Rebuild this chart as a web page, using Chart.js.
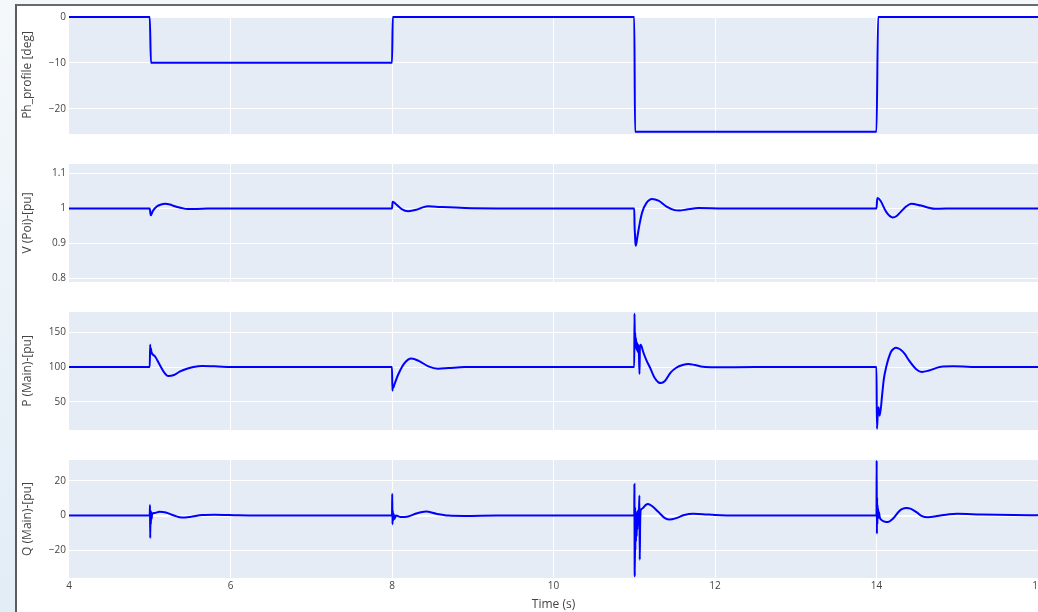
<!DOCTYPE html>
<html>
<head>
<meta charset="utf-8">
<script src="https://cdn.jsdelivr.net/npm/chart.js@4.4.0/dist/chart.umd.min.js"></script>
<style>
  body {
    margin: 0;
    width: 1038px;
    height: 612px;
    overflow: hidden;
    position: relative;
    background: linear-gradient(#f4f8fb, #e2edf6);
  }
  #panel {
    position: absolute;
    left: 15px;
    top: 4px;
    width: 1100px;
    height: 700px;
    background: #fff;
    border-left: 2px solid #5c5c5c;
    border-top: 2px solid #6a6a6a;
  }
  canvas {
    position: absolute;
    left: 17px;
  }
</style>
</head>
<body>
<div id="panel"></div>
<canvas id="phChart" width="1051" height="136" style="top:7px;width:1051px;height:136px"></canvas>
<canvas id="vChart" width="1051" height="136" style="top:155px;width:1051px;height:136px"></canvas>
<canvas id="pChart" width="1051" height="136" style="top:303px;width:1051px;height:136px"></canvas>
<canvas id="qChart" width="1051" height="161" style="top:451px;width:1051px;height:161px"></canvas>
<script>
const xTicks = [4, 6, 8, 10, 12, 14, 16];

// phase step profile
const phTime = [4, 5, 5.015, 8, 8.01, 11, 11.01, 14, 14.02, 16];
const phValues = [0, 0, -10, -10, 0, 0, -25, -25, 0, 0];
const phTicks = [-20, -10, 0];

// voltage at the point of interconnection
const vTime = [4, 5, 5.012, 5.04, 5.09, 5.14, 5.19, 5.25, 5.3, 5.38, 5.47, 5.65, 5.9,
  8, 8.008, 8.05, 8.12, 8.2, 8.3, 8.38, 8.45, 8.6, 8.9, 9.3,
  11, 11.004, 11.008, 11.015, 11.02, 11.04, 11.07, 11.1, 11.15, 11.22, 11.3, 11.4, 11.5, 11.56, 11.65, 11.8, 12.1,
  14, 14.01, 14.05, 14.12, 14.2, 14.25, 14.3, 14.37, 14.43, 14.55, 14.72, 15, 16];
const vValues = [1, 1, 0.98, 0.993, 1.006, 1.011, 1.013, 1.011, 1.007, 1.002, 0.998, 0.999, 1,
  1, 1.019, 1.012, 0.998, 0.992, 0.996, 1.003, 1.006, 1.004, 1.001, 1,
  1, 0.95, 0.93, 0.9, 0.893, 0.92, 0.96, 0.99, 1.015, 1.027, 1.022, 1.005, 0.995, 0.994, 0.997, 1.001, 1,
  1, 1.03, 1.022, 0.99, 0.974, 0.978, 0.99, 1.006, 1.013, 1.008, 0.999, 1, 1];
const vTicks = [0.8, 0.9, 1, 1.1];

// active power, main
const pTime = [4, 5, 5.005, 5.01, 5.015, 5.02, 5.06, 5.12, 5.18, 5.23, 5.3, 5.37, 5.46, 5.54, 5.65, 5.8, 6.1, 6.5,
  8, 8.005, 8.01, 8.015, 8.03, 8.08, 8.15, 8.24, 8.33, 8.45, 8.57, 8.7, 8.9, 9.3,
  11, 11.003, 11.008, 11.012, 11.016, 11.022, 11.028, 11.035, 11.042, 11.05, 11.058, 11.065, 11.07, 11.078, 11.09,
  11.11, 11.15, 11.2, 11.25, 11.3, 11.33, 11.38, 11.45, 11.52, 11.6, 11.67, 11.75, 11.85, 12, 12.5,
  14, 14.005, 14.015, 14.025, 14.04, 14.07, 14.09, 14.12, 14.18, 14.21, 14.24, 14.27, 14.3, 14.35, 14.4, 14.5,
  14.56, 14.65, 14.8, 14.95, 15.3, 16];
const pValues = [100, 100, 132, 119, 127, 122, 116, 104, 92, 87, 88.5, 93.4, 97.5, 100, 101.5, 101, 100, 100,
  100, 66, 72, 70, 75, 90, 105, 112.3, 109, 101, 97.6, 98.5, 100, 100,
  100, 177, 135, 150, 128, 142, 125, 135, 122, 132, 118, 90, 128, 132, 130,
  122, 110, 98, 85, 78, 77, 80, 92, 99, 103, 104.5, 103, 100.5, 99.8, 100,
  100, 11, 30, 42, 30, 60, 82, 100, 122, 126, 127.8, 127, 125, 119, 110, 96,
  93, 95, 100.5, 101, 100, 100];
const pTicks = [50, 100, 150];

// reactive power, main
const qTime = [4, 5, 5.003, 5.006, 5.01, 5.014, 5.018, 5.022, 5.03, 5.06, 5.12, 5.2, 5.3, 5.4, 5.5, 5.65, 5.8, 6.1, 6.5,
  8, 8.003, 8.006, 8.01, 8.014, 8.02, 8.03, 8.05, 8.1, 8.2, 8.3, 8.42, 8.55, 8.7, 8.9, 9.3,
  11, 11.002, 11.005, 11.008, 11.011, 11.014, 11.018, 11.022, 11.026, 11.03, 11.035, 11.04, 11.046, 11.052, 11.058,
  11.064, 11.068, 11.073, 11.08, 11.1, 11.14, 11.17, 11.22, 11.3, 11.38, 11.44, 11.52, 11.62, 11.73, 11.85, 12, 12.3,
  14, 14.002, 14.005, 14.008, 14.011, 14.014, 14.017, 14.02, 14.025, 14.03, 14.04, 14.06, 14.1, 14.14, 14.2, 14.28,
  14.32, 14.37, 14.42, 14.5, 14.55, 14.64, 14.75, 14.9, 15, 15.3, 15.7, 16];
const qValues = [0, 0, 6, -13, 3, -5, 2, -2, 1, 1.5, 2.2, 1.8, 0, -1.2, -0.8, 0.3, 0.5, 0.2, 0,
  0, 12.5, -5, 3, -3, 1, -2, 0, -0.8, -0.5, 1.2, 2.3, 1, 0, -0.2, 0,
  0, 18, -30, -35, 5, -20, 0, -15, 2, -12, 0, -8, 3, -5, 2,
  11.5, -25.5, -5, 3, 4, 6, 6.7, 5.5, 2, -1.5, -2.3, -1.5, 0.3, 1, 0.8, 0.3, 0,
  0, 31.8, -10.5, 10.5, -5, 6, -2, 4, -1, 2, -1, -2.5, -3.5, -3.8, -2, 2.5,
  3.8, 4.4, 4, 1.8, 0, -1, -0.3, 0.8, 1, 0.6, 0.3, 0.2];
const qTicks = [-20, 0, 20];

const plotBackground = {
  id: 'plotBackground',
  beforeDraw(chart) {
    const { ctx, chartArea: a } = chart;
    ctx.save();
    ctx.fillStyle = '#E5ECF6';
    ctx.fillRect(a.left, a.top, a.width, a.height);
    ctx.restore();
  }
};

function minusSign(v) {
  return String(v).replace('-', '\u2212');
}

function makeChart(id, time, values, yMin, yMax, yTicks, title, bottomAxis) {
  const points = time.map((t, i) => ({ x: t, y: values[i] }));
  const font = { family: 'Open Sans', size: 10 };

  return new Chart(document.getElementById(id), {
    type: 'line',
    data: {
      datasets: [{
        data: points,
        borderColor: 'rgb(0, 0, 255)',
        borderWidth: 2,
        pointRadius: 0,
        cubicInterpolationMode: 'monotone',
        clip: 0
      }]
    },
    options: {
      responsive: false,
      animation: false,
      devicePixelRatio: 1,
      layout: { padding: { top: 8, bottom: bottomAxis ? 0 : 8, left: 0, right: 30 } },
      plugins: { legend: { display: false }, tooltip: { enabled: false } },
      scales: {
        x: {
          type: 'linear',
          min: 4,
          max: 16,
          afterBuildTicks: s => { s.ticks = xTicks.map(v => ({ value: v })); },
          afterFit: s => { s.height = bottomAxis ? 34 : 0; },
          border: { display: false },
          grid: {
            drawTicks: false,
            color: c => (c.tick && (c.tick.value === 4 || c.tick.value === 16)) ? 'rgba(0,0,0,0)' : '#fff'
          },
          ticks: {
            display: bottomAxis,
            padding: 2,
            maxRotation: 0,
            autoSkip: false,
            color: '#444',
            font: font
          },
          title: {
            display: bottomAxis,
            text: 'Time (s)',
            color: '#444',
            font: { family: 'Open Sans', size: 12 },
            padding: 0
          }
        },
        y: {
          min: yMin,
          max: yMax,
          afterBuildTicks: s => { s.ticks = yTicks.map(v => ({ value: v })); },
          afterFit: s => { s.width = 52; },
          border: { display: false },
          grid: {
            drawTicks: false,
            color: '#fff',
            lineWidth: c => (c.tick && c.tick.value === 0) ? 2 : 1
          },
          ticks: {
            padding: 3,
            color: '#444',
            font: font,
            callback: v => minusSign(v)
          },
          title: {
            display: true,
            text: title,
            color: '#444',
            font: { family: 'Open Sans', size: 12 },
            padding: { top: 3, bottom: 0 }
          }
        }
      }
    },
    plugins: [plotBackground]
  });
}

makeChart('phChart', phTime, phValues, -25.5, 0.2, phTicks, 'Ph_profile [deg]', false);
makeChart('vChart', vTime, vValues, 0.7887, 1.1274, vTicks, 'V (Poi)-[pu]', false);
makeChart('pChart', pTime, pValues, 9.35, 179.3, pTicks, 'P (Main)-[pu]', false);
makeChart('qChart', qTime, qValues, -36, 32, qTicks, 'Q (Main)-[pu]', true);
</script>
</body>
</html>
